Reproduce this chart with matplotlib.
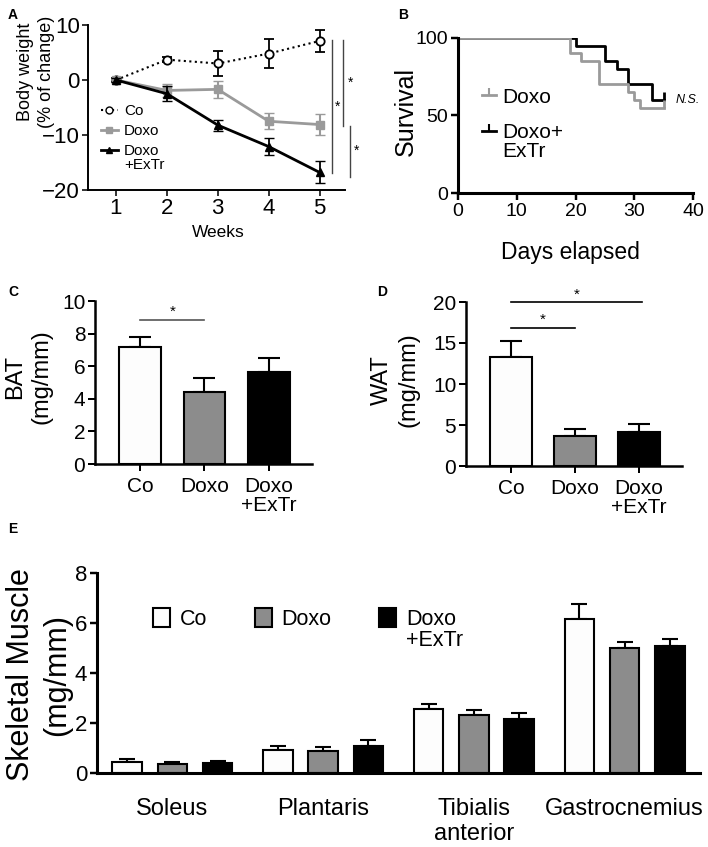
import matplotlib
matplotlib.use("Agg")
import matplotlib.pyplot as plt
from matplotlib.lines import Line2D
from matplotlib.patches import Patch
import numpy as np

plt.rcParams['font.family'] = ['Liberation Sans', 'DejaVu Sans']

# panel A - body weight change (% of week 1)
weeks = [1, 2, 3, 4, 5]
bw_co = [0, 3.7, 3.0, 4.8, 7.1]
bw_co_err = [0.3, 0.5, 2.2, 2.6, 2.0]
bw_doxo = [0, -1.9, -1.7, -7.5, -8.1]
bw_doxo_err = [0.3, 1.2, 1.5, 1.5, 1.9]
bw_extr = [0, -2.5, -8.2, -12.1, -16.8]
bw_extr_err = [0.3, 1.4, 1.0, 1.5, 2.0]

# panel B - survival
doxo_days = [0, 19, 21, 24, 29, 30, 31, 35]
doxo_surv = [100, 90, 85, 70, 65, 60, 55, 55]
extr_days = [0, 20, 25, 27, 29, 33, 35]
extr_surv = [100, 95, 85, 80, 70, 60, 60]

# panels C, D - fat depots
groups = ["Co", "Doxo", "Doxo\n+ExTr"]
bat = [7.2, 4.4, 5.65]
bat_err = [0.58, 0.88, 0.84]
wat = [13.3, 3.7, 4.2]
wat_err = [1.95, 0.85, 0.95]

# panel E - skeletal muscle
muscles = ["Soleus", "Plantaris", "Tibialis\nanterior", "Gastrocnemius"]
sm_co = [0.45, 0.92, 2.57, 6.15]
sm_co_err = [0.10, 0.15, 0.21, 0.61]
sm_doxo = [0.36, 0.87, 2.33, 5.0]
sm_doxo_err = [0.08, 0.16, 0.20, 0.24]
sm_extr = [0.41, 1.09, 2.15, 5.1]
sm_extr_err = [0.07, 0.24, 0.26, 0.26]

W, H = 708, 847
GRAY_LINE = '#9a9a9a'
GRAY_BAR = '#8c8c8c'
WHITE_BAR = '#fdfdfd'

fig = plt.figure(figsize=(W / 100, H / 100), dpi=100)


def px_axes(x0, y0, x1, y1):
    # pixel box (top-left origin) -> figure axes
    return fig.add_axes([x0 / W, 1 - y1 / H, (x1 - x0) / W, (y1 - y0) / H])


def style(ax, lw, ticklen=4, size=14):
    for s in ['top', 'right']:
        ax.spines[s].set_visible(False)
    for s in ['left', 'bottom']:
        ax.spines[s].set_linewidth(lw)
    ax.tick_params(direction='out', length=ticklen, width=lw * 0.8, labelsize=size, pad=2)


def second_line(text_artist, s, size):
    # put a continuation line right under a legend label
    fig.add_artist(plt.Annotation(s, xy=(0, 0), xycoords=text_artist, xytext=(0, 0),
                                  textcoords='offset points', ha='left', va='top',
                                  fontsize=size))


def label(x, y, s, size, rot=0, **kw):
    fig.text(x / W, 1 - y / H, s, fontsize=size, rotation=rot, ha='center', va='center',
             multialignment='center', **kw)


# ---------- A ----------
axA = px_axes(88, 25, 345, 190)
style(axA, 1.4, 4, 16)
axA.errorbar(weeks, bw_co, yerr=bw_co_err, color='black', ls=':', lw=1.5, marker='o',
             mfc='white', mec='black', ms=6, mew=1.3, capsize=3.5, elinewidth=1.3, zorder=3)
axA.errorbar(weeks, bw_doxo, yerr=bw_doxo_err, color=GRAY_LINE, ls='-', lw=2, marker='s',
             ms=6, capsize=3.5, elinewidth=1.5, zorder=4)
axA.errorbar(weeks, bw_extr, yerr=bw_extr_err, color='black', ls='-', lw=2, marker='^',
             ms=6, capsize=3.5, elinewidth=1.3, zorder=5)
axA.set_xlim(0.45, 5.5)
axA.set_ylim(-20, 10)
axA.set_yticks([-20, -10, 0, 10])
axA.set_xticks(weeks)
for xs, y0, y1, sx, sy in [(5.25, 7.3, -16.9, 5.36, -4.8), (5.47, 7.3, -8.3, 5.6, -0.5),
                           (5.59, -8.4, -17.6, 5.72, -12.8)]:
    axA.plot([xs, xs], [y0, y1], color='#444444', lw=1, clip_on=False)
    axA.text(sx, sy, '*', fontsize=10, ha='center', va='center', clip_on=False)
hA = [Line2D([], [], color='black', ls=':', lw=1.5, marker='o', mfc='white', ms=5),
      Line2D([], [], color=GRAY_LINE, lw=2, marker='s', ms=5),
      Line2D([], [], color='black', lw=2, marker='^', ms=5)]
legA = axA.legend(hA, ['Co', 'Doxo', 'Doxo'], loc='upper left', bbox_to_anchor=(0.05, 0.52),
                  frameon=False, fontsize=11, handlelength=1.1, handletextpad=0.4,
                  labelspacing=0.4, borderpad=0, borderaxespad=0)
second_line(legA.get_texts()[2], '+ExTr', 11)
label(36, 72, 'Body weight\n(% of change)', 13, rot=90, linespacing=1.35)
label(218, 232, 'Weeks', 12.5)

# ---------- B ----------
axB = px_axes(458, 38, 693, 193)
style(axB, 2.2, 5, 14)
axB.step(extr_days, extr_surv, where='post', color='black', lw=2)
axB.step(doxo_days, doxo_surv, where='post', color=GRAY_LINE, lw=2)
axB.plot(extr_days[-1:], extr_surv[-1:], marker=2, ms=6, mew=2, color='black')
axB.plot(doxo_days[-1:], doxo_surv[-1:], marker=2, ms=6, mew=2, color=GRAY_LINE)
axB.set_xlim(0, 40)
axB.set_ylim(0, 100)
axB.set_xticks([0, 10, 20, 30, 40])
axB.set_yticks([0, 50, 100])
axB.text(37, 60, 'N.S.', fontsize=9, style='italic', va='center', ha='left', clip_on=False)
hB = [Line2D([], [], color=GRAY_LINE, lw=2, marker=2, ms=5, mew=1.5),
      Line2D([], [], color='black', lw=2, marker=2, ms=5, mew=1.5)]
legB = axB.legend(hB, ['Doxo', 'Doxo+'], loc='upper left', bbox_to_anchor=(0.1, 0.68),
                  frameon=False, fontsize=15, handlelength=0.7, handletextpad=0.3,
                  labelspacing=0.8, borderpad=0, borderaxespad=0)
second_line(legB.get_texts()[1], 'ExTr', 15)
label(406, 111, 'Survival', 18, rot=90)
label(570, 252, 'Days elapsed', 16.5)

# ---------- C, D ----------
bar_colors = [WHITE_BAR, GRAY_BAR, 'black']


def fat_panel(box, vals, errs, ylim, yticks, ylab, lab_xy, sigs):
    ax = px_axes(*box)
    style(ax, 1.8, 5, 15)
    x = np.arange(len(vals))
    ax.bar(x, vals, width=0.65, color=bar_colors, edgecolor='black', linewidth=1.5, zorder=2)
    ax.errorbar(x, vals, yerr=[np.zeros(len(errs)), errs], fmt='none', ecolor='black',
                elinewidth=1.5, capsize=8, capthick=1.5, zorder=1)
    ax.set_xlim(-0.7, 2.67)
    ax.set_ylim(*ylim)
    ax.set_yticks(yticks)
    ax.set_xticks(x)
    ax.set_xticklabels(groups, fontsize=15, linespacing=1.05)
    ax.tick_params(axis='x', pad=4)
    for (a, b, y, ys, col) in sigs:
        ax.plot([a, b], [y, y], color=col, lw=1.2, clip_on=False)
        ax.text((a + b) / 2, ys, '*', fontsize=11, ha='center', va='center')
    label(lab_xy[0], lab_xy[1], ylab, 17, rot=90, linespacing=1.25)
    return ax


axC = fat_panel((95, 301, 312, 464), bat, bat_err, (0, 10), [0, 2, 4, 6, 8, 10],
                'BAT\n(mg/mm)', (28, 377), [(0, 1.0, 8.85, 9.35, '#555555')])
axD = fat_panel((466, 302, 682, 466), wat, wat_err, (0, 20), [0, 5, 10, 15, 20],
                'WAT\n(mg/mm)', (395, 380),
                [(0, 1.0, 16.8, 17.8, 'black'), (0, 2.05, 19.95, 20.9, 'black')])

# ---------- E ----------
axE = px_axes(97, 573, 700, 773)
style(axE, 2.2, 5, 16)
xm = np.arange(len(muscles))
off, bw = 0.3, 0.195
for i, (v, e) in enumerate([(sm_co, sm_co_err), (sm_doxo, sm_doxo_err), (sm_extr, sm_extr_err)]):
    pos = xm + (i - 1) * off
    axE.bar(pos, v, width=bw, color=bar_colors[i], edgecolor='black', linewidth=1.5, zorder=2)
    axE.errorbar(pos, v, yerr=[np.zeros(len(e)), e], fmt='none', ecolor='black',
                 elinewidth=1.5, capsize=5.5, capthick=1.5, zorder=1)
axE.set_xlim(-0.5, 3.5)
axE.set_ylim(0, 8)
axE.set_yticks([0, 2, 4, 6, 8])
axE.set_xticks(xm)
axE.set_xticklabels(muscles, fontsize=17, linespacing=1.15)
axE.tick_params(axis='x', length=0, pad=18)
hE = [Patch(facecolor=c, edgecolor='black', linewidth=1.5) for c in bar_colors]
legE = axE.legend(hE, ['Co', 'Doxo', 'Doxo'], loc='center left', bbox_to_anchor=(0.093, 0.77),
                  ncol=3, frameon=False, fontsize=15.5, handlelength=0.8, handleheight=1.0,
                  handletextpad=0.45, columnspacing=2.2, borderpad=0, borderaxespad=0)
second_line(legE.get_texts()[2], '+ExTr', 15.5)
label(39, 675, 'Skeletal Muscle\n(mg/mm)', 22, rot=90, linespacing=1.25)

# panel letters
for s, x, y in [('A', 13, 15), ('B', 403, 15), ('C', 13, 292), ('D', 382, 292), ('E', 13, 529)]:
    fig.text(x / W, 1 - y / H, s, fontsize=10, fontweight='bold', ha='center', va='center')

fig.savefig('out.png', dpi=100)
